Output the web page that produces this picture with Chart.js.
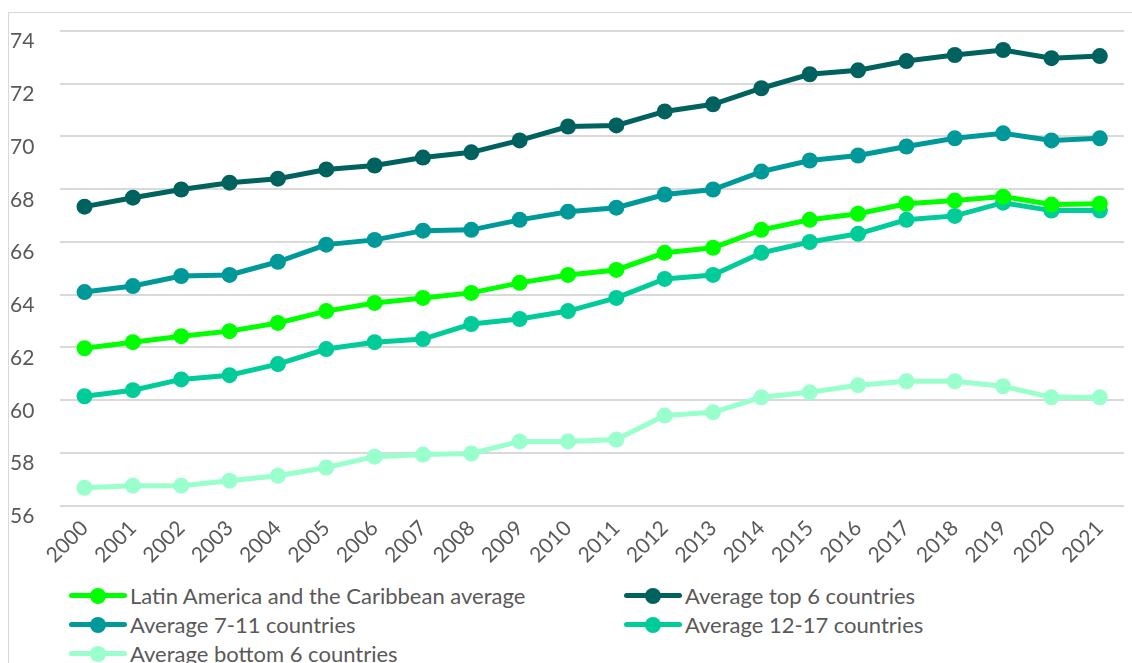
<!DOCTYPE html>
<html><head><meta charset="utf-8">
<script src="https://cdn.jsdelivr.net/npm/chart.js@4/dist/chart.umd.min.js"></script>
<style>
html,body{margin:0;padding:0;background:#fff;width:1132px;height:663px;overflow:hidden;font-family:Lato,"Open Sans",sans-serif;}
#frame{position:absolute;left:8px;top:12px;width:1200px;height:700px;border:1px solid #d9d9d9;box-sizing:border-box;}
#wrap{position:absolute;left:0;top:0;width:1132px;height:570px;}
#legend{position:absolute;left:0;top:580px;width:1132px;}
.item{position:absolute;display:flex;align-items:center;font-size:22px;color:#595959;white-space:nowrap;}
.sw{position:relative;width:58px;height:16px;margin-right:3px;}
.sw .ln{position:absolute;left:0;right:0;top:5.5px;height:5px;border-radius:3px;}
.sw .dt{position:absolute;left:21px;top:0;width:16px;height:16px;border-radius:50%;}
</style></head>
<body>
<div id="frame"></div>
<div id="wrap"><canvas id="c"></canvas></div>
<div id="legend"></div>
<script>
const years = ["2000","2001","2002","2003","2004","2005","2006","2007","2008","2009","2010","2011","2012","2013","2014","2015","2016","2017","2018","2019","2020","2021"];
const seriesNames = ["Latin America and the Caribbean average","Average top 6 countries","Average 7-11 countries","Average 12-17 countries","Average bottom 6 countries"];
const lacAverage = [61.97,62.20,62.43,62.62,62.93,63.38,63.69,63.88,64.07,64.45,64.75,64.94,65.59,65.78,66.46,66.84,67.07,67.45,67.57,67.72,67.42,67.45];
const top6 = [67.34,67.68,67.99,68.25,68.40,68.75,68.90,69.20,69.40,69.85,70.38,70.42,70.95,71.22,71.83,72.36,72.51,72.86,73.09,73.28,72.97,73.05];
const mid7to11 = [64.10,64.33,64.71,64.75,65.25,65.90,66.08,66.43,66.46,66.84,67.15,67.30,67.80,67.99,68.67,69.09,69.28,69.62,69.93,70.12,69.85,69.93];
const mid12to17 = [60.15,60.38,60.79,60.95,61.37,61.94,62.20,62.32,62.89,63.08,63.38,63.88,64.60,64.75,65.59,66.00,66.31,66.84,66.99,67.49,67.19,67.19];
const bottom6 = [56.68,56.76,56.76,56.95,57.14,57.45,57.86,57.94,57.98,58.44,58.44,58.51,59.42,59.54,60.11,60.30,60.57,60.72,60.72,60.53,60.11,60.11];
const colors = ["#00ff00","#00625f","#009999","#00cc99","#99ffcc"];
const yTicks = [56,58,60,62,64,66,68,70,72,74];

const values = [lacAverage, top6, mid7to11, mid12to17, bottom6];
const order = [1,2,4,3,0];
const datasets = seriesNames.map((n,i)=>({
  label:n, data:values[i], borderColor:colors[i], backgroundColor:colors[i],
  borderWidth:5, pointRadius:8, pointHoverRadius:8, pointBorderWidth:0,
  tension:0, order:order[i]
}));

new Chart(document.getElementById('c'),{
  type:'line',
  data:{labels:years,datasets},
  options:{
    responsive:true, maintainAspectRatio:false, animation:false,
    layout:{padding:{top:31,right:7,left:10,bottom:0}},
    plugins:{legend:{display:false},tooltip:{enabled:false}},
    scales:{
      x:{offset:true,
        grid:{display:false},
        border:{display:false},
        ticks:{color:'#595959',font:{family:'Lato',size:21},maxRotation:45,minRotation:45,autoSkip:false,padding:2}},
      y:{min:56,max:74,
        afterBuildTicks:(ax)=>{ax.ticks=yTicks.map(v=>({value:v}));},
        grid:{color:'#d9d9d9',lineWidth:2,drawTicks:false},
        border:{display:false},
        ticks:{color:'#595959',font:{family:'Lato',size:21},padding:13,align:'start',crossAlign:'far'}}
    }
  }
});

const leg = document.getElementById('legend');
const pos = [[69,16],[624,16],[69,45],[624,45],[69,74]];
seriesNames.forEach((n,i)=>{
  const d=document.createElement('div');d.className='item';
  d.style.left=pos[i][0]+'px';d.style.top=(pos[i][1]-14)+'px';
  d.innerHTML=`<div class="sw"><div class="ln" style="background:${colors[i]}"></div><div class="dt" style="background:${colors[i]}"></div></div><span>${n}</span>`;
  leg.appendChild(d);
});
</script>
</body></html>
